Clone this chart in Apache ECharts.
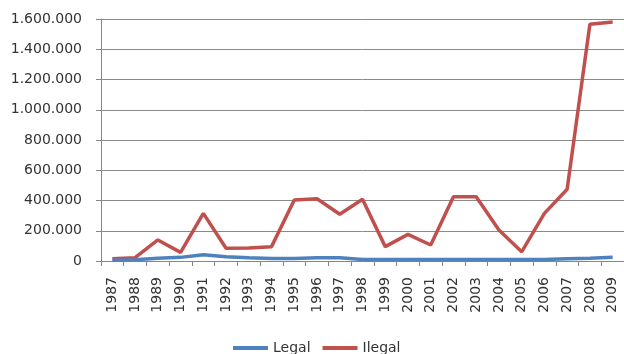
<!DOCTYPE html>
<html>
<head>
<meta charset="utf-8">
<script src="https://cdn.jsdelivr.net/npm/echarts@6/dist/echarts.min.js"></script>
<style>
  html, body { margin: 0; padding: 0; background: #fff; }
  #chart { width: 624px; height: 354px; }
</style>
</head>
<body>
<div id="chart"></div>
<script>
// Years on the category axis
const years = ['1987','1988','1989','1990','1991','1992','1993','1994','1995','1996','1997','1998',
               '1999','2000','2001','2002','2003','2004','2005','2006','2007','2008','2009'];

// Legal series
const legal = [5000, 8000, 18000, 24000, 42000, 28000, 22000, 17000, 17000, 22000, 22000, 10000,
               10000, 10000, 10000, 10000, 10000, 10000, 10000, 10000, 15000, 18000, 24000];

// Ilegal series
const ilegal = [15000, 22000, 139000, 57000, 315000, 84000, 86000, 95000, 403000, 412000, 309000, 408000,
                95000, 176000, 106000, 425000, 425000, 205000, 61000, 315000, 474000, 1565000, 1580000];

// Y axis range
const yMin = 0, yMax = 1600000, yStep = 200000;

const font = '"DejaVu Sans", Verdana, sans-serif';
const textColor = '#333333';

// Thousands separated with dots
function fmt(v) {
  return String(v).replace(/\B(?=(\d{3})+(?!\d))/g, '.');
}

const chart = echarts.init(document.getElementById('chart'), null, { renderer: 'canvas' });
chart.setOption({
  animation: false,
  backgroundColor: '#ffffff',
  grid: { left: 101, top: 19, width: 526, height: 242, containLabel: false },
  legend: {
    top: 336,
    left: 228,
    itemWidth: 35,
    itemHeight: 4,
    itemGap: 12,
    icon: 'rect',
    textStyle: { fontFamily: font, fontSize: 14, lineHeight: 14, color: textColor },
    data: ['Legal', 'Ilegal']
  },
  xAxis: {
    type: 'category',
    data: years,
    boundaryGap: true,
    axisLine: { lineStyle: { color: '#868686', width: 1 } },
    axisTick: { show: true, length: 5, alignWithLabel: false, lineStyle: { color: '#868686' } },
    axisLabel: { rotate: 90, margin: 16, interval: 0, fontFamily: font, fontSize: 14, color: textColor },
    splitLine: { show: false }
  },
  yAxis: {
    type: 'value',
    min: yMin,
    max: yMax,
    interval: yStep,
    axisLine: { show: true, lineStyle: { color: '#868686', width: 1 } },
    axisTick: { show: true, length: 5, lineStyle: { color: '#868686' } },
    axisLabel: { margin: 19, fontFamily: font, fontSize: 14, color: textColor, formatter: fmt },
    splitLine: { lineStyle: { color: '#8a8a8a', width: 1 } }
  },
  series: [
    {
      name: 'Legal',
      type: 'line',
      data: legal,
      symbol: 'none',
      lineStyle: { color: '#4F81BD', width: 3.5 },
      itemStyle: { color: '#4F81BD' },
      z: 3
    },
    {
      name: 'Ilegal',
      type: 'line',
      data: ilegal,
      symbol: 'none',
      lineStyle: { color: '#C0504D', width: 3.5 },
      itemStyle: { color: '#C0504D' },
      z: 2
    }
  ]
});
</script>
</body>
</html>
